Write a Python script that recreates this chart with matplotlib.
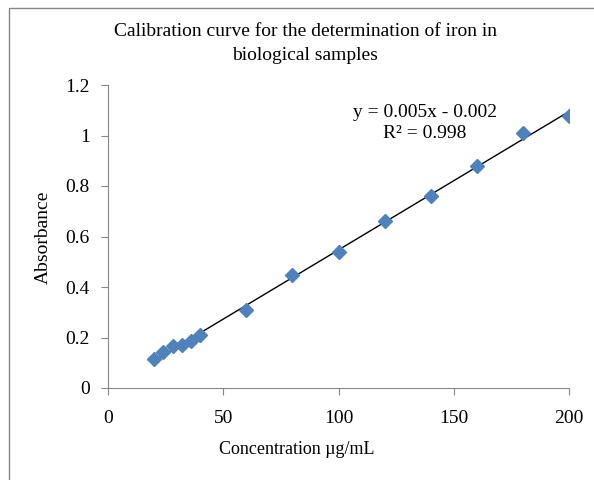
import numpy as np
import matplotlib
matplotlib.use('Agg')
import matplotlib.pyplot as plt
from matplotlib.patches import Rectangle

# Данные калибровочной кривой
conc = [20, 24, 28, 32, 36, 40, 60, 80, 100, 120, 140, 160, 180, 200]
absorb = [0.114, 0.141, 0.165, 0.170, 0.187, 0.209, 0.309, 0.448, 0.540, 0.661, 0.760, 0.879, 1.010, 1.077]
eq_text = 'y = 0.005x - 0.002\nR² = 0.998'

plt.rcParams['font.family'] = ['Liberation Serif', 'DejaVu Serif']

W, H = 594, 480
fig = plt.figure(figsize=(W / 100, H / 100), dpi=100)

# Рамка области диаграммы
fig.patches.append(Rectangle((9 / W, -0.05), 1.1, 1 - 8 / H + 0.05, transform=fig.transFigure,
                             fill=False, edgecolor='#868686', linewidth=1))

ax = fig.add_axes([108 / W, 1 - 388 / H, (569 - 108) / W, (388 - 85) / H])

# Линия тренда (МНК)
k, b = np.polyfit(conc, absorb, 1)
xs = np.array([min(conc), max(conc)])
ax.plot(xs, k * xs + b, color='black', linewidth=1.0, zorder=2)
ax.plot(conc, absorb, linestyle='none', marker='D', markersize=7,
        color='#4F81BD', markeredgecolor='#4F81BD', zorder=3)

ax.set_xlim(0, 200)
ax.set_ylim(0, 1.2)
ax.set_xticks([0, 50, 100, 150, 200])
ax.set_yticks([0, 0.2, 0.4, 0.6, 0.8, 1.0, 1.2])
ax.set_yticklabels(['0', '0.2', '0.4', '0.6', '0.8', '1', '1.2'])
for s in ['top', 'right']:
    ax.spines[s].set_visible(False)
for s in ['left', 'bottom']:
    ax.spines[s].set_color('#868686')
ax.tick_params(axis='both', direction='out', length=5, color='#868686', labelsize=14, pad=8)
ax.tick_params(axis='x', pad=11)

fig.text(305 / W, 1 - 31 / H, 'Calibration curve for the determination of iron in',
         ha='center', va='center', fontsize=14)
fig.text(305 / W, 1 - 55 / H, 'biological samples', ha='center', va='center', fontsize=14)
fig.text(297 / W, 1 - 450 / H, 'Concentration µg/mL', ha='center', va='center', fontsize=13)
fig.text(43 / W, 1 - 237 / H, 'Absorbance', ha='center', va='center', rotation=90, fontsize=14)
fig.text(425 / W, 1 - 123 / H, eq_text, ha='center', va='center', fontsize=14,
         multialignment='center', linespacing=1.3)

plt.savefig('out.png', dpi=100)
plt.close()
